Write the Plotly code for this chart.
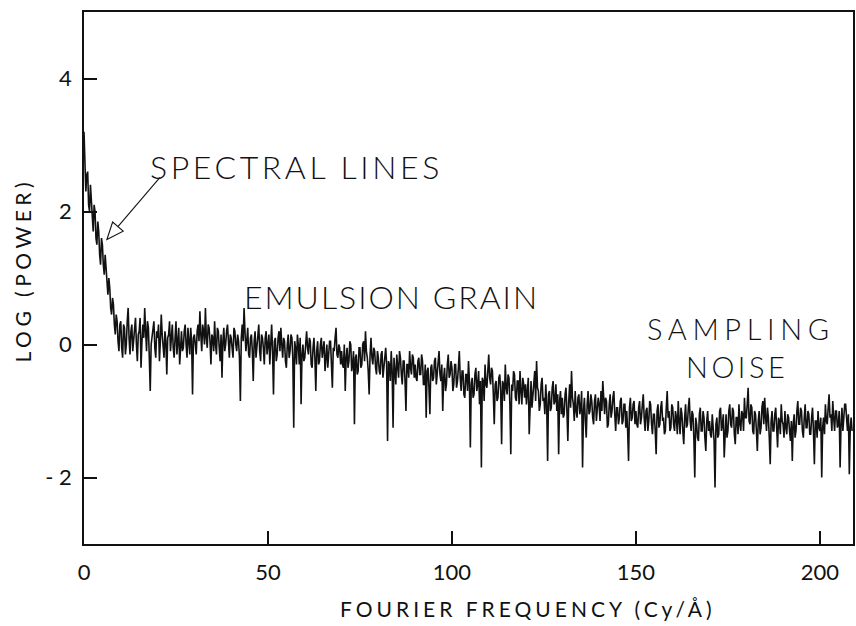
import numpy as np
import plotly.graph_objects as go

# Power spectrum sampled every 0.25 cycles/Å, starting at 0
freq_step = 0.25

log_power = [
    # 0 - 9.75  (spectral lines)
    3.2, 2.5, 2.3, 2.55, 2.6, 2.1, 2.0, 2.4, 2.2, 1.85, 1.7, 2.1, 2.0, 1.6, 1.5, 1.85, 1.7, 1.35, 1.2, 1.6,
    1.5, 1.2, 1.05, 1.35, 1.15, 0.9, 0.75, 1.0, 0.85, 0.55, 0.45, 0.7, 0.6, 0.3, 0.15, 0.45, 0.35, 0.05, -0.1, 0.3,
    # 10 - 19.75
    0.35, -0.05, -0.2, 0.3, 0.25, -0.15, 0.0, 0.35, 0.55, 0.1, -0.15, 0.2, 0.3, -0.1, 0.05, 0.25, 0.4, 0.0, -0.25, 0.15,
    0.2, 0.4, -0.35, 0.05, 0.3, 0.1, 0.55, 0.2, -0.1, 0.35, 0.25, -0.2, -0.7, 0.0, 0.15, 0.3, 0.35, -0.05, -0.2, 0.2,
    # 20 - 29.75
    0.1, 0.3, -0.25, 0.05, 0.45, 0.15, 0.0, -0.2, 0.2, 0.05, -0.45, 0.1, 0.15, 0.35, -0.1, 0.15, 0.3, -0.05, -0.2, 0.1,
    0.35, -0.15, 0.05, 0.25, -0.3, 0.0, 0.2, -0.1, -0.05, 0.2, 0.3, 0.0, -0.2, 0.25, 0.1, -0.15, 0.25, 0.05, -0.75, 0.1,
    # 30 - 39.75
    0.15, -0.05, -0.15, 0.2, 0.3, 0.05, 0.5, 0.15, -0.1, 0.3, 0.2, 0.0, 0.55, 0.1, -0.05, 0.3, 0.25, 0.05, -0.3, 0.15,
    0.1, -0.1, 0.35, 0.0, -0.15, 0.25, 0.2, -0.05, -0.25, 0.15, -0.5, 0.05, 0.25, -0.1, 0.0, 0.2, 0.3, 0.05, -0.2, 0.15,
    # 40 - 49.75
    0.1, -0.05, -0.2, 0.25, 0.2, 0.0, -0.1, 0.15, 0.05, -0.2, -0.85, 0.1, 0.3, 0.05, 0.55, 0.2, -0.1, 0.05, 0.25, -0.15,
    -0.2, 0.1, 0.15, -0.1, -0.55, 0.05, 0.2, -0.2, 0.0, 0.25, 0.3, -0.1, -0.25, 0.15, 0.1, -0.05, -0.3, 0.1, 0.2, -0.15,
    # 50 - 59.75
    0.05, 0.15, -0.3, 0.0, 0.3, -0.1, -0.75, 0.05, 0.1, -0.25, -0.15, 0.1, 0.2, -0.1, 0.25, 0.0, -0.2, 0.1, 0.05, -0.25,
    -0.35, 0.0, 0.15, -0.2, -0.1, 0.15, 0.1, -0.2, -1.25, 0.05, -0.05, -0.3, 0.15, 0.0, -0.3, 0.1, -0.9, -0.15, 0.0, -0.25,
    # 60 - 69.75
    -0.2, 0.0, 0.2, -0.05, -0.15, 0.1, 0.05, -0.3, -0.35, -0.05, 0.1, -0.2, -0.7, -0.1, 0.05, -0.3, -0.25, 0.0, 0.1, -0.2,
    -0.1, 0.05, -0.4, -0.15, 0.0, -0.35, -0.2, 0.05, 0.05, -0.25, -0.65, -0.05, -0.1, 0.1, 0.25, -0.15, -0.2, 0.0, -0.05, -0.3,
    # 70 - 79.75
    -0.1, -0.3, -0.35, 0.0, -0.7, -0.2, -0.05, -0.35, -0.25, 0.05, 0.0, -0.4, -0.3, -0.1, -1.2, -0.2, -0.15, -0.45, -0.4, -0.05,
    -0.05, -0.35, -0.3, 0.0, 0.05, -0.25, 0.2, -0.1, -0.2, -0.4, -0.75, -0.15, 0.1, -0.2, -0.3, -0.05, -0.1, -0.35, -0.45, -0.1,
    # 80 - 89.75
    -0.2, -0.4, -0.45, -0.15, -0.1, -0.5, -0.35, -0.2, -0.05, -0.3, -1.45, -0.25, -0.3, -0.55, -0.1, -0.4, -1.25, -0.2, -0.4, -0.6,
    -0.15, -0.35, -0.5, -0.1, -0.2, -0.45, -0.6, -0.25, -0.25, -0.55, -1.0, -0.3, -0.3, -0.5, -0.1, -0.35, -0.45, -0.15, -0.2, -0.5,
    # 90 - 99.75
    -0.3, -0.5, -0.55, -0.25, -0.2, -0.45, -0.45, -0.15, -0.25, -0.6, -0.6, -0.3, -1.1, -0.4, -0.35, -0.65, -1.05, -0.35, -0.3, -0.55,
    -0.5, -0.25, -0.2, -0.6, -0.4, -0.2, -0.1, -0.45, -0.55, -0.3, -1.0, -0.5, -0.35, -0.7, -0.6, -0.3, -0.15, -0.5, -0.45, -0.25,
    # 100 - 109.75
    -0.35, -0.7, -0.6, -0.3, -0.3, -0.65, -0.55, -0.35, -0.1, -0.5, -0.7, -0.4, -0.4, -0.75, -0.8, -0.45, -0.45, -0.7, -0.25, -0.55,
    -1.55, -0.6, -0.5, -0.8, -0.75, -0.45, -0.35, -0.7, -0.6, -0.4, -0.9, -0.55, -1.85, -0.5, -0.55, -0.85, -0.3, -0.6, -0.65, -0.4,
    # 110 - 119.75
    -0.15, -0.5, -0.6, -0.35, -0.4, -0.75, -1.2, -0.6, -0.55, -0.85, -0.8, -0.5, -0.45, -0.7, -1.5, -0.55, -0.6, -0.85, -0.3, -0.65,
    -0.75, -0.45, -0.5, -0.9, -1.65, -0.6, -0.7, -0.4, -0.45, -0.8, -0.85, -0.55, -0.55, -0.9, -0.4, -0.7, -0.9, -0.5, -0.6, -0.8,
    # 120 - 129.75
    -0.6, -0.9, -0.75, -0.5, -1.35, -0.8, -0.55, -0.95, -0.8, -0.6, -0.4, -0.85, -0.25, -0.65, -0.7, -1.0, -0.9, -0.6, -0.5, -0.85,
    -0.8, -1.05, -0.6, -0.9, -1.75, -0.75, -0.7, -1.0, -0.95, -0.65, -0.55, -0.9, -0.85, -0.6, -1.0, -0.75, -1.65, -0.85, -0.7, -1.05,
    # 130 - 139.75
    -0.8, -1.1, -1.05, -0.75, -0.65, -1.0, -1.45, -0.85, -0.6, -0.95, -0.4, -0.8, -0.9, -1.15, -0.7, -1.0, -1.1, -0.8, -0.75, -1.05,
    -0.95, -0.7, -1.85, -1.0, -0.8, -1.15, -1.4, -0.9, -0.7, -1.05, -1.0, -0.75, -0.85, -1.1, -1.2, -0.85, -0.75, -1.15, -0.95, -0.8,
    # 140 - 149.75
    -0.9, -1.15, -0.7, -1.0, -0.55, -0.9, -1.05, -0.8, -0.85, -1.25, -1.2, -0.9, -0.75, -1.1, -1.0, -0.8, -0.7, -1.05, -1.3, -0.95,
    -0.95, -1.2, -1.1, -0.85, -0.8, -1.2, -1.15, -0.9, -0.9, -1.25, -1.0, -1.3, -1.75, -0.95, -0.8, -1.15, -1.1, -0.9, -0.85, -1.2,
    # 150 - 159.75
    -1.0, -1.2, -1.25, -0.95, -0.85, -1.2, -1.1, -0.9, -0.75, -1.1, -1.3, -1.0, -0.95, -1.3, -1.15, -0.85, -0.9, -1.2, -1.35, -1.05,
    -1.05, -1.3, -1.65, -1.0, -0.9, -1.25, -1.2, -0.95, -0.85, -1.15, -1.1, -1.35, -1.3, -0.95, -0.7, -1.1, -1.0, -1.3, -1.25, -0.9,
    # 160 - 169.75
    -0.95, -1.2, -1.3, -1.0, -1.1, -1.35, -0.85, -1.15, -1.35, -0.95, -1.05, -1.3, -1.5, -1.1, -0.9, -1.25, -1.2, -0.95, -0.8, -1.15,
    -1.3, -1.0, -1.05, -1.4, -2.0, -1.1, -1.2, -1.4, -1.45, -1.05, -0.95, -1.3, -1.3, -1.0, -1.1, -1.4, -1.6, -1.15, -1.0, -1.3,
    # 170 - 179.75
    -1.15, -1.35, -1.4, -1.05, -1.25, -1.45, -2.15, -1.2, -1.1, -1.4, -1.35, -1.0, -0.95, -1.3, -1.2, -1.05, -1.7, -1.25, -1.05, -1.4,
    -1.3, -1.0, -0.9, -1.2, -1.25, -0.95, -1.0, -1.35, -1.5, -1.1, -1.1, -1.35, -0.9, -1.2, -1.3, -1.0, -1.05, -1.3, -0.8, -1.1,
    # 180 - 189.75
    -1.1, -0.9, -0.65, -1.15, -1.2, -0.9, -0.95, -1.3, -1.35, -1.0, -1.05, -1.3, -1.6, -1.15, -1.0, -1.35, -1.25, -0.95, -0.85, -1.2,
    -0.8, -1.1, -1.3, -0.95, -1.1, -1.4, -1.8, -1.15, -1.0, -1.3, -1.3, -1.05, -0.95, -1.25, -1.55, -1.1, -1.15, -1.35, -0.9, -1.15,
    # 190 - 199.75
    -1.2, -1.4, -1.0, -1.25, -1.35, -1.05, -1.1, -1.3, -1.45, -1.15, -1.75, -1.2, -1.05, -1.4, -1.3, -1.0, -0.85, -1.2, -1.2, -0.95,
    -1.0, -1.3, -1.4, -1.1, -0.9, -1.25, -1.25, -1.0, -1.05, -1.35, -1.35, -1.1, -0.95, -1.3, -1.8, -1.15, -1.15, -1.4, -1.0, -1.25,
    # 200 - 208.75  (sampling noise)
    -1.3, -1.1, -2.0, -1.25, -1.1, -1.35, -0.9, -1.15, -1.2, -0.95, -0.75, -1.1, -1.05, -1.3, -0.85, -1.1, -1.3, -1.0,
    -1.0, -1.25, -1.2, -1.0, -1.85, -1.2, -0.95, -1.3, -1.15, -0.9, -0.9, -1.2, -1.3, -1.05, -1.95, -1.25, -1.1, -1.3,
]

freq = np.arange(len(log_power)) * freq_step

x_ticks = [0, 50, 100, 150, 200]
x_tick_text = ["0", "50", "100", "150", "200"]
y_ticks = [-2, 0, 2, 4]
y_tick_text = ["- 2", "0", "2", "4"]

FONT = "Lato"
INK = "#111111"


def spaced(text, px):
    return f'<span style="letter-spacing:{px}px">{text}</span>'


fig = go.Figure()
fig.add_trace(go.Scatter(
    x=freq, y=log_power, mode="lines",
    line=dict(color=INK, width=1.6),
    hoverinfo="skip", showlegend=False,
))

axis_common = dict(
    showgrid=False, zeroline=False, showline=True, linecolor=INK,
    linewidth=1.6, mirror=True, ticks="inside", tickcolor=INK,
    tickwidth=1.6, ticklen=13,
    tickfont=dict(family=FONT, size=22, color=INK, weight=400),
)

fig.update_xaxes(range=[0, 209], tickvals=x_ticks, ticktext=x_tick_text,
                 ticklabelstandoff=8, **axis_common)
fig.update_yaxes(range=[-3, 5], tickvals=y_ticks, ticktext=y_tick_text,
                 ticklabelstandoff=6, **axis_common)

label_font = dict(family=FONT, size=32, color=INK, weight=300)
pair_font = dict(family=FONT, size=29, color=INK, weight=300)
axis_font = dict(family=FONT, size=21, color=INK, weight=400)

annotations = [
    dict(text=spaced("SPECTRAL LINES", 3.6), x=57.7, y=2.68, font=label_font),
    dict(text=spaced("EMULSION GRAIN", 2.0), x=83.7, y=0.72, font=label_font),
    dict(text=spaced("SAMPLING", 5.6), x=178.6, y=0.235, font=pair_font),
    dict(text=spaced("NOISE", 3.5), x=177.5, y=-0.33, font=pair_font),
]
for a in annotations:
    fig.add_annotation(xref="x", yref="y", showarrow=False,
                       xanchor="center", yanchor="middle", **a)

# pointer to the steep low-frequency part: shaft plus an open triangular head
fig.add_shape(type="line", xref="x", yref="y",
              x0=20.6, y0=2.511, x1=9.22, y1=1.773,
              line=dict(color=INK, width=1.1))
fig.add_shape(type="path", xref="x", yref="y",
              path="M 6.23 1.579 L 10.65 1.705 L 7.78 1.841 Z",
              fillcolor="white", line=dict(color=INK, width=1.1))

fig.add_annotation(text=spaced("FOURIER FREQUENCY (Cy/Å)", 4.0),
                   xref="paper", yref="paper",
                   x=0.578, y=-0.122, showarrow=False, xanchor="center",
                   yanchor="middle", font=axis_font)
fig.add_annotation(text=spaced("LOG (POWER)", 4.5), xref="paper", yref="paper",
                   x=-0.08, y=0.515, showarrow=False, textangle=-90,
                   xanchor="center", yanchor="middle", font=axis_font)

fig.update_layout(
    width=856, height=626,
    margin=dict(l=84, r=1, t=12, b=82),
    paper_bgcolor="white", plot_bgcolor="white",
)

fig.write_html("out.html")
